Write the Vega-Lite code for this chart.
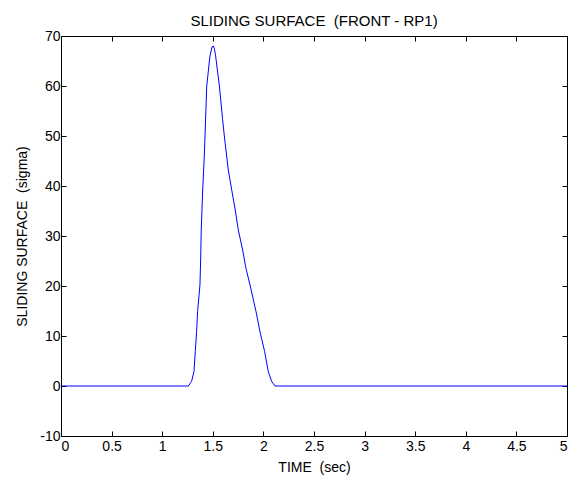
{
  "$schema": "https://vega.github.io/schema/vega-lite/v6.json",
  "width": 506,
  "height": 400,
  "autosize": {"type": "none"},
  "padding": {"left": 61, "top": 36, "right": 14, "bottom": 43},
  "background": "white",
  "title": {"text": "SLIDING SURFACE \u00a0(FRONT - RP1)", "font": "Liberation Sans", "fontSize": 15, "fontWeight": "normal", "color": "black", "offset": 0},
  "config": {
    "view": {"stroke": "black", "strokeWidth": 1},
    "axis": {"grid": false, "domain": false, "ticks": true, "zindex": 1, "labelFont": "Liberation Sans", "labelFontSize": 14, "labelColor": "black", "titleFont": "Liberation Sans", "titleFontSize": 14, "titleFontWeight": "normal", "titleColor": "black", "tickColor": "#000000", "tickOpacity": 1, "tickWidth": 1, "tickSize": 5, "offset": -5, "labelExpr": "datum.value + ''"}
  },
  "data": {"values": [
    {"t": 0, "v": 0}, {"t": 1.258, "v": 0}, {"t": 1.29, "v": 0.9}, {"t": 1.314, "v": 2.9}, {"t": 1.327, "v": 6.9},
    {"t": 1.34, "v": 10.9}, {"t": 1.35, "v": 14.9}, {"t": 1.373, "v": 20.2}, {"t": 1.38, "v": 25.2},
    {"t": 1.386, "v": 31.2}, {"t": 1.40, "v": 39.2}, {"t": 1.416, "v": 46}, {"t": 1.423, "v": 50},
    {"t": 1.44, "v": 60}, {"t": 1.472, "v": 66}, {"t": 1.492, "v": 67.8}, {"t": 1.505, "v": 68},
    {"t": 1.515, "v": 67.5}, {"t": 1.528, "v": 66}, {"t": 1.565, "v": 60}, {"t": 1.597, "v": 53.3},
    {"t": 1.614, "v": 50}, {"t": 1.637, "v": 46}, {"t": 1.653, "v": 43.2}, {"t": 1.687, "v": 39.2},
    {"t": 1.722, "v": 35.2}, {"t": 1.752, "v": 31.2}, {"t": 1.795, "v": 27.2}, {"t": 1.828, "v": 23.5},
    {"t": 1.868, "v": 20.2}, {"t": 1.927, "v": 14.9}, {"t": 1.966, "v": 10.9}, {"t": 2.012, "v": 6.9},
    {"t": 2.048, "v": 2.9}, {"t": 2.082, "v": 0.9}, {"t": 2.115, "v": 0}, {"t": 5, "v": 0}
  ]},
  "layer": [
    {
      "mark": {"type": "line", "color": "#0000ff", "strokeWidth": 1, "clip": true},
      "encoding": {
        "x": {"field": "t", "type": "quantitative", "scale": {"domain": [0, 5], "nice": false, "zero": false}, "axis": {"title": "TIME \u00a0(sec)", "values": [0, 0.5, 1, 1.5, 2, 2.5, 3, 3.5, 4, 4.5, 5], "labelPadding": 3, "titlePadding": 7}},
        "y": {"field": "v", "type": "quantitative", "scale": {"domain": [-10, 70], "nice": false, "zero": false}, "axis": {"title": "SLIDING SURFACE \u00a0(sigma)", "values": [-10, 0, 10, 20, 30, 40, 50, 60, 70], "labelPadding": 1, "titlePadding": 10}}
      }
    },
    {
      "mark": {"type": "line", "opacity": 0},
      "encoding": {
        "x": {"field": "t", "type": "quantitative", "scale": {"domain": [0, 5], "nice": false, "zero": false}, "axis": {"orient": "top", "title": null, "labels": false, "values": [0, 0.5, 1, 1.5, 2, 2.5, 3, 3.5, 4, 4.5, 5]}},
        "y": {"field": "v", "type": "quantitative", "scale": {"domain": [-10, 70], "nice": false, "zero": false}, "axis": {"orient": "right", "title": null, "labels": false, "values": [-10, 0, 10, 20, 30, 40, 50, 60, 70]}}
      }
    }
  ],
  "resolve": {"axis": {"x": "independent", "y": "independent"}}
}
